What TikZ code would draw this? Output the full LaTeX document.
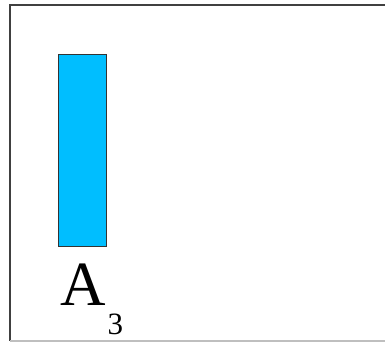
\documentclass[tikz,border=0pt]{standalone}
\usepackage{fontspec}
\setmainfont{Liberation Serif}
\usetikzlibrary{positioning}
\definecolor{barcyan}{RGB}{0,190,255}

\begin{document}
\begin{tikzpicture}[x=1pt, y=1pt,
      frame/.style={line width=1.3pt, draw=black!75},
      bar/.style={draw=black!80, line width=0.9pt, fill=barcyan,
        minimum width=48pt, minimum height=192pt, inner sep=0pt},
      biglabel/.style={inner sep=0pt, font=\fontsize{63}{63}\selectfont}
    ]
    \useasboundingbox (0,0) rectangle (385,-342);

    % Frame
    \coordinate (tl) at (10,-5);
    \coordinate (tr) at (385,-5);
    \coordinate (bl) at (10,-341);
    \coordinate (br) at (385,-341);
    \draw[frame] (tr) -- (tl) -- (bl);
    \draw[line width=1.3pt, draw=black!25] (bl) -- (br);

    % Bar and its label
    \node[bar] (a3) at (82,-150) {};
    \node[biglabel, anchor=base west] (a3label) at (60,-305)
      {A\kern2pt\raisebox{-29pt}{\fontsize{31}{31}\selectfont 3}};
  \end{tikzpicture}
\end{document}
